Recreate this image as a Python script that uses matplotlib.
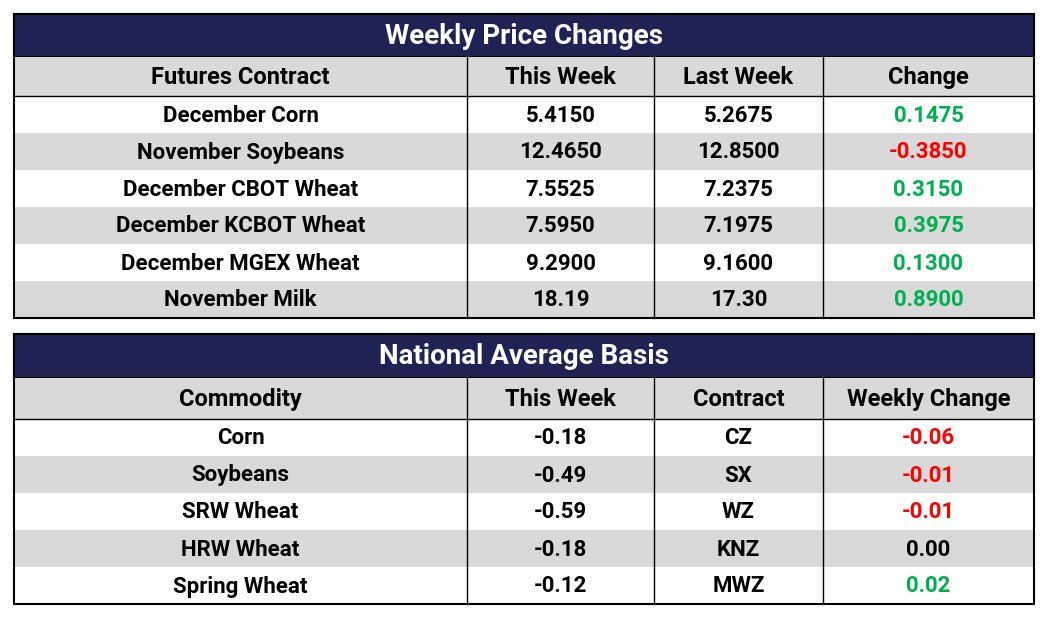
import matplotlib.pyplot as plt
from matplotlib.patches import Rectangle

plt.rcParams['font.family'] = ['Roboto', 'DejaVu Sans']

NAVY = '#1f2353'
GRAY = '#d9d9d9'
GREEN = '#00b050'
RED = '#ff0000'

price_title = "Weekly Price Changes"
price_header = ["Futures Contract", "This Week", "Last Week", "Change"]
contracts = ["December Corn", "November Soybeans", "December CBOT Wheat",
             "December KCBOT Wheat", "December MGEX Wheat", "November Milk"]
this_week = ["5.4150", "12.4650", "7.5525", "7.5950", "9.2900", "18.19"]
last_week = ["5.2675", "12.8500", "7.2375", "7.1975", "9.1600", "17.30"]
change = ["0.1475", "-0.3850", "0.3150", "0.3975", "0.1300", "0.8900"]

basis_title = "National Average Basis"
basis_header = ["Commodity", "This Week", "Contract", "Weekly Change"]
commodities = ["Corn", "Soybeans", "SRW Wheat", "HRW Wheat", "Spring Wheat"]
basis_week = ["-0.18", "-0.49", "-0.59", "-0.18", "-0.12"]
basis_contract = ["CZ", "SX", "WZ", "KNZ", "MWZ"]
basis_change = ["-0.06", "-0.01", "-0.01", "0.00", "0.02"]

cols = [14, 467, 654, 823, 1034]


def change_color(v):
    f = float(v)
    return GREEN if f > 0 else RED if f < 0 else 'black'


def draw_table(ax, top, title, header, rows, colorcol, title_h, head_h, row_h):
    left, right = cols[0], cols[-1]
    ax.add_patch(Rectangle((left, top), right - left, title_h, fc=NAVY, ec='black', lw=1.5))
    ax.text((left + right) / 2, top + title_h / 2 + 1, title, color='white', fontsize=20,
            fontweight='bold', ha='center', va='center')
    y = top + title_h
    ax.add_patch(Rectangle((left, y), right - left, head_h, fc=GRAY, ec='none'))
    for i, h in enumerate(header):
        ax.text((cols[i] + cols[i + 1]) / 2, y + head_h / 2 + 1, h, fontsize=17,
                fontweight='bold', ha='center', va='center')
    y += head_h
    for r, row in enumerate(rows):
        fc = 'white' if r % 2 == 0 else GRAY
        ax.add_patch(Rectangle((left, y), right - left, row_h, fc=fc, ec='none'))
        for i, v in enumerate(row):
            c = change_color(v) if i == colorcol else 'black'
            ax.text((cols[i] + cols[i + 1]) / 2, y + row_h / 2 + 1, v, fontsize=16,
                    fontweight='bold', ha='center', va='center', color=c)
        y += row_h
    bottom = y
    for x in cols[1:-1]:
        ax.plot([x, x], [top + title_h, bottom], color='black', lw=1)
    ax.plot([left, right], [top + title_h + head_h] * 2, color='black', lw=1)
    ax.add_patch(Rectangle((left, top), right - left, bottom - top, fc='none', ec='black', lw=1.5))


fig = plt.figure(figsize=(10.5, 6.17), dpi=100)
ax = fig.add_axes([0, 0, 1, 1])
ax.set_xlim(0, 1050)
ax.set_ylim(617, 0)
ax.axis('off')

price_rows = list(zip(contracts, this_week, last_week, change))
basis_rows = list(zip(commodities, basis_week, basis_contract, basis_change))
draw_table(ax, 14, price_title, price_header, price_rows, 3, 43, 39, 37)
draw_table(ax, 334, basis_title, basis_header, basis_rows, 3, 44, 41, 37)

fig.savefig('out.png', dpi=100)
